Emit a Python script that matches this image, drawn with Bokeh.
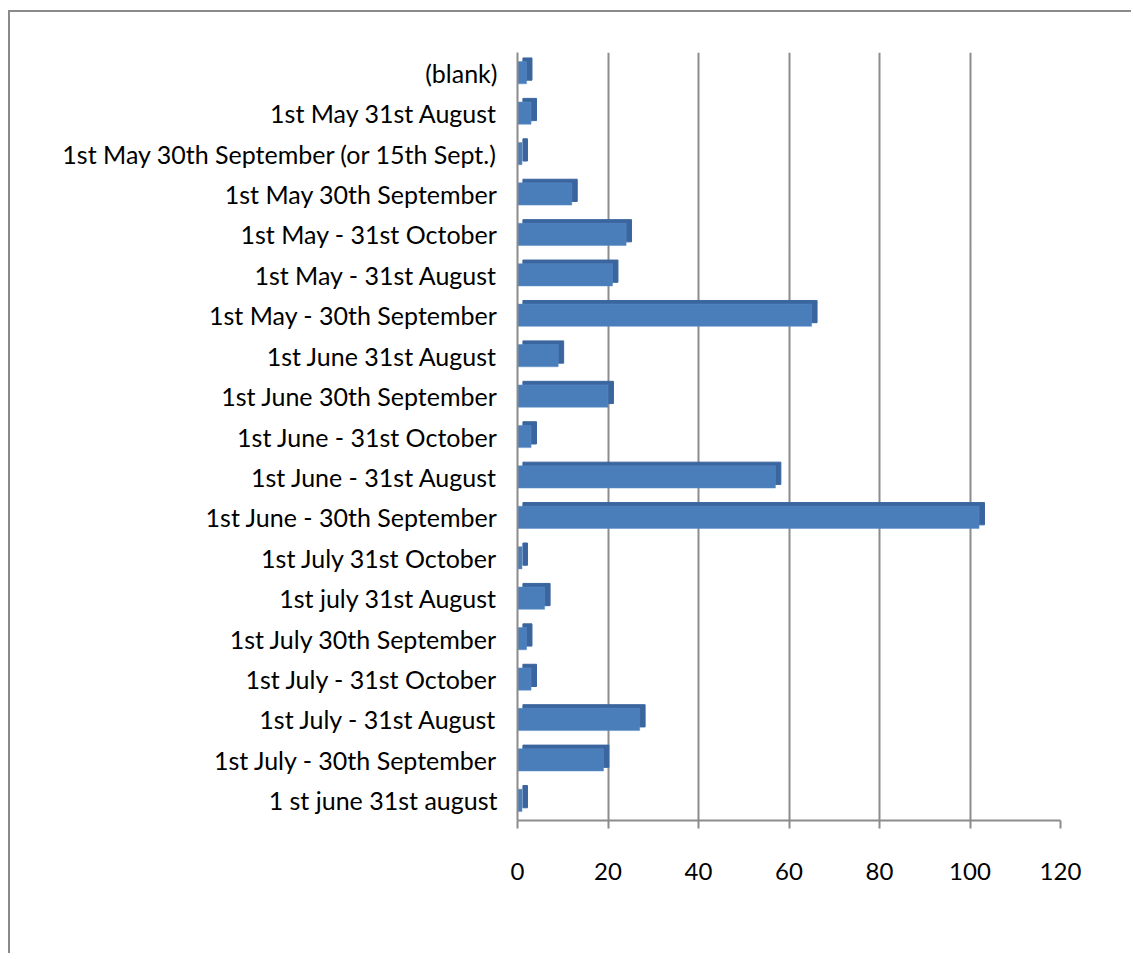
from bokeh.plotting import figure
from bokeh.models import FactorRange, Range1d, ColumnDataSource, FixedTicker
from bokeh.transform import dodge
from bokeh.embed import file_html
from bokeh.resources import INLINE

# categories, top to bottom as shown in the chart
categories = [
    "(blank)",
    "1st May 31st August",
    "1st May 30th September (or 15th Sept.)",
    "1st May 30th September",
    "1st May - 31st October",
    "1st May - 31st August",
    "1st May - 30th September",
    "1st June 31st August",
    "1st June 30th September",
    "1st June - 31st October",
    "1st June - 31st August",
    "1st June - 30th September",
    "1st July 31st October",
    "1st july 31st August",
    "1st July 30th September",
    "1st July - 31st October",
    "1st July - 31st August",
    "1st July - 30th September",
    "1 st june 31st august",
]
counts = [2, 3, 1, 12, 24, 21, 65, 9, 20, 3, 57, 102, 1, 6, 2, 3, 27, 19, 1]
x_ticks = [0, 20, 40, 60, 80, 100, 120]

FONT = "Lato"
GRID = "#8c8c8c"

src = ColumnDataSource(data=dict(cat=categories, val=counts))

p = figure(
    width=1123, height=943,
    y_range=FactorRange(factors=list(reversed(categories)), range_padding=0.0),
    x_range=Range1d(0, 120),
    output_backend="svg", toolbar_location=None,
    min_border_left=507, min_border_right=73, min_border_top=40, min_border_bottom=135,
)
p.styles = {"border-left": "2px solid #8a8a8a", "border-top": "2px solid #8a8a8a",
            "margin-left": "8px", "margin-top": "10px"}
p.outline_line_color = None
p.background_fill_color = "white"
p.border_fill_color = "white"

# 3D-ish bar: darker back block (top + side faces) then front face
p.hbar(y=dodge("cat", 0.09, range=p.y_range), left=1.2, right=dodge("val", 1.2),
       height=0.55, source=src, fill_color="#3a659e", line_color="#3a659e", line_width=1)
p.hbar(y="cat", left=0, right="val", height=0.55, source=src,
       fill_color="#4a7ebb", line_color="#5b8cc6", line_width=0.5)

# axes styling
p.xaxis.ticker = FixedTicker(ticks=x_ticks)
p.xgrid.ticker = FixedTicker(ticks=x_ticks)
p.xgrid.grid_line_color = GRID
p.xgrid.grid_line_width = 2
p.ygrid.grid_line_color = None

p.xaxis.axis_line_color = GRID
p.xaxis.axis_line_width = 2
p.xaxis.major_tick_line_color = GRID
p.xaxis.major_tick_line_width = 2
p.xaxis.major_tick_out = 8
p.xaxis.major_tick_in = 0
p.xaxis.minor_tick_line_color = None
p.xaxis.major_label_standoff = 34
p.xaxis.major_label_text_font = FONT
p.xaxis.major_label_text_font_size = "24px"
p.xaxis.major_label_text_color = "black"

p.yaxis.axis_line_color = GRID
p.yaxis.axis_line_width = 2
p.yaxis.major_tick_line_color = None
p.yaxis.major_tick_out = 0
p.yaxis.major_label_standoff = 20
p.yaxis.major_label_text_font = FONT
p.yaxis.major_label_text_font_size = "25px"
p.yaxis.major_label_text_color = "black"

open("out.html", "w").write(file_html(p, INLINE))
